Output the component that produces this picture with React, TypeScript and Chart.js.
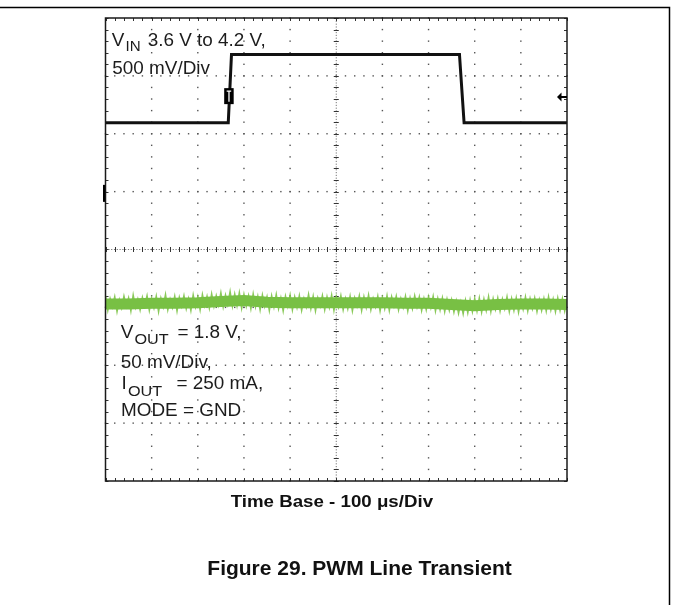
import { useEffect, useRef } from "react";
import { Chart, registerables } from "chart.js";

Chart.register(...registerables);

// ---- axes (time in µs, vertical in screen divisions) ----
const timeMin = 0;
const timeMax = 1000;
const timeStep = 100; // 100 µs / div
const divMin = -4;
const divMax = 4;
const divStep = 1;
const minorPerDiv = 5;

// ---- VIN trace (500 mV/Div, 3.6 V -> 4.2 V) ----
const vinTimes = [0, 266, 273, 767, 777, 1000];
const vinLevels = [2.19, 2.19, 3.37, 3.37, 2.19, 2.19];

// ---- VOUT trace (50 mV/Div) : core level and noise envelope ----
const voutCoreTimes = [0, 50, 100, 150, 200, 250, 300, 350, 400, 450, 500, 550, 600, 650, 700, 750, 800, 850, 900, 950, 1000];
const voutCoreLevels = [-0.94, -0.94, -0.93, -0.93, -0.92, -0.9, -0.88, -0.91, -0.92, -0.92, -0.92, -0.92, -0.92, -0.93, -0.93, -0.95, -0.97, -0.95, -0.94, -0.94, -0.95];
const voutNoiseStep = 5; // µs between noise samples
const voutNoise = [
  -0.8, -1.05, -0.85, -0.99, -0.82, -1.07, -0.87, -1.01, -0.81, -0.98,
  -0.84, -1.06, -0.79, -1.0, -0.86, -1.04, -0.83, -0.97, -0.8, -1.05,
  -0.85, -1.01, -0.81, -1.07, -0.84, -0.99, -0.78, -1.04, -0.86, -1.0,
  -0.81, -1.06, -0.83, -0.98, -0.8, -1.02, -0.85, -1.05, -0.79, -0.99,
  -0.82, -1.04, -0.78, -0.97, -0.81, -1.01, -0.77, -0.98, -0.8, -0.96,
  -0.75, -0.99, -0.79, -0.95, -0.73, -0.98, -0.77, -0.97, -0.75, -1.01,
  -0.78, -0.98, -0.8, -1.02, -0.77, -0.99, -0.81, -1.04, -0.79, -0.98,
  -0.82, -1.05, -0.8, -0.99, -0.78, -1.02, -0.84, -1.06, -0.81, -0.98,
  -0.79, -1.04, -0.82, -1.0, -0.8, -1.05, -0.85, -0.99, -0.78, -1.02,
  -0.81, -1.06, -0.84, -0.98, -0.8, -1.04, -0.82, -1.0, -0.79, -1.05,
  -0.82, -0.99, -0.8, -1.04, -0.85, -1.02, -0.81, -1.06, -0.84, -0.98,
  -0.8, -1.05, -0.82, -1.0, -0.79, -1.04, -0.85, -0.99, -0.81, -1.06,
  -0.84, -1.02, -0.8, -1.05, -0.82, -0.98, -0.81, -1.04, -0.85, -1.0,
  -0.81, -1.06, -0.84, -1.02, -0.8, -0.99, -0.82, -1.05, -0.85, -1.04,
  -0.82, -1.0, -0.81, -1.06, -0.85, -1.04, -0.84, -1.07, -0.86, -1.05,
  -0.87, -1.08, -0.89, -1.1, -0.91, -1.11, -0.88, -1.09, -0.87, -1.07,
  -0.85, -1.06, -0.84, -1.08, -0.86, -1.05, -0.82, -1.07, -0.85, -1.03,
  -0.84, -1.06, -0.86, -1.02, -0.82, -1.07, -0.85, -1.05, -0.84, -1.08,
  -0.86, -1.03, -0.82, -1.06, -0.85, -1.02, -0.84, -1.07, -0.87, -1.05,
  -0.85, -1.06, -0.82, -1.04, -0.86, -1.07, -0.84, -1.05, -0.85, -1.06,
  -0.87,
];

// ---- markers ----
const triggerTime = 268;
const triggerLevel = 2.65;
const ch1RefLevel = 0.97;
const arrowLevel = 2.635;

// ---- texts ----
const vinLabel = ["V", "IN", "3.6 V to 4.2 V,"];
const vinScale = "500 mV/Div";
const voutLabel = ["V", "OUT", "= 1.8 V,"];
const voutScale = "50 mV/Div,";
const ioutLabel = ["I", "OUT", "= 250 mA,"];
const modeLabel = "MODE = GND";
const timeBase = "Time Base - 100 \u03bcs/Div";
const caption = "Figure 29. PWM Line Transient";

const FONT = '"Liberation Sans", Arial, Helvetica, sans-serif';

function stretchText(ctx: CanvasRenderingContext2D, text: string, x: number, y: number, font: string, sx: number) {
  ctx.save();
  ctx.font = font;
  ctx.textBaseline = "alphabetic";
  ctx.textAlign = "left";
  ctx.translate(x, y);
  ctx.scale(sx, 1);
  ctx.fillText(text, 0, 0);
  ctx.restore();
}

const scopePlugin = {
  id: "scopeDecor",
  beforeDatasetsDraw(chart: any) {
    const { ctx, chartArea: a, scales } = chart;
    const xs = scales.x;
    const ys = scales.y;
    const xMinor = timeStep / minorPerDiv;
    const yMinor = divStep / minorPerDiv;
    ctx.save();
    // dotted grid
    ctx.fillStyle = "#555";
    for (let t = timeMin + timeStep; t < timeMax; t += timeStep) {
      if (t === (timeMin + timeMax) / 2) continue;
      const px = xs.getPixelForValue(t);
      for (let v = divMin; v <= divMax + 1e-9; v += yMinor) {
        const py = ys.getPixelForValue(v);
        ctx.fillRect(px - 0.7, py - 0.7, 1.4, 1.4);
      }
    }
    for (let v = divMin + divStep; v < divMax; v += divStep) {
      if (Math.abs(v) < 1e-9) continue;
      const py = ys.getPixelForValue(v);
      for (let t = timeMin; t <= timeMax + 1e-9; t += xMinor) {
        const px = xs.getPixelForValue(t);
        ctx.fillRect(px - 0.7, py - 0.7, 1.4, 1.4);
      }
    }
    // center cross lines
    const cx = xs.getPixelForValue((timeMin + timeMax) / 2);
    const cy = ys.getPixelForValue(0);
    ctx.strokeStyle = "#777";
    ctx.lineWidth = 1;
    ctx.setLineDash([1.2, 1.6]);
    ctx.beginPath();
    ctx.moveTo(a.left, cy);
    ctx.lineTo(a.right, cy);
    ctx.moveTo(cx, a.top);
    ctx.lineTo(cx, a.bottom);
    ctx.stroke();
    ctx.setLineDash([]);
    ctx.strokeStyle = "#333";
    ctx.beginPath();
    for (let t = timeMin; t <= timeMax + 1e-9; t += xMinor) {
      const px = Math.round(xs.getPixelForValue(t)) + 0.5;
      ctx.moveTo(px, cy - 2.5);
      ctx.lineTo(px, cy + 2.5);
    }
    for (let v = divMin; v <= divMax + 1e-9; v += yMinor) {
      const py = Math.round(ys.getPixelForValue(v)) + 0.5;
      ctx.moveTo(cx - 2.5, py);
      ctx.lineTo(cx + 2.5, py);
    }
    // border ticks
    for (let t = timeMin; t <= timeMax + 1e-9; t += xMinor) {
      const px = Math.round(xs.getPixelForValue(t)) + 0.5;
      ctx.moveTo(px, a.top);
      ctx.lineTo(px, a.top + 3);
      ctx.moveTo(px, a.bottom);
      ctx.lineTo(px, a.bottom - 3);
    }
    for (let v = divMin; v <= divMax + 1e-9; v += yMinor) {
      const py = Math.round(ys.getPixelForValue(v)) + 0.5;
      ctx.moveTo(a.left, py);
      ctx.lineTo(a.left + 3, py);
      ctx.moveTo(a.right, py);
      ctx.lineTo(a.right - 3, py);
    }
    ctx.stroke();
    ctx.restore();
  },
  afterDatasetsDraw(chart: any) {
    const { ctx, chartArea: a, scales } = chart;
    const xs = scales.x;
    const ys = scales.y;
    ctx.save();
    // plot border
    ctx.strokeStyle = "#1a1a1a";
    ctx.lineWidth = 1.5;
    ctx.strokeRect(a.left, a.top, a.right - a.left, a.bottom - a.top);

    // trigger marker
    const tx = xs.getPixelForValue(triggerTime);
    const ty = ys.getPixelForValue(triggerLevel);
    ctx.fillStyle = "#000";
    ctx.fillRect(tx - 5, ty - 8, 9.5, 16);
    ctx.strokeStyle = "#fff";
    ctx.lineWidth = 1.3;
    ctx.beginPath();
    ctx.moveTo(tx - 2.5, ty - 5);
    ctx.lineTo(tx + 2, ty - 5);
    ctx.moveTo(tx - 0.2, ty - 5);
    ctx.lineTo(tx - 0.2, ty + 5.5);
    ctx.stroke();

    // channel reference bar at left
    const ry = ys.getPixelForValue(ch1RefLevel);
    ctx.fillStyle = "#000";
    ctx.fillRect(a.left - 2.5, ry - 8.5, 2.2, 17);

    // arrow at right
    const ay = ys.getPixelForValue(arrowLevel);
    ctx.beginPath();
    ctx.moveTo(a.right - 10, ay);
    ctx.lineTo(a.right - 5.5, ay - 4.5);
    ctx.lineTo(a.right - 5.5, ay + 4.5);
    ctx.closePath();
    ctx.fill();
    ctx.fillRect(a.right - 6, ay - 1, 6, 2);

    // scope texts
    ctx.fillStyle = "#1c1c1c";
    const big = `17.5px ${FONT}`;
    const sub = `14px ${FONT}`;
    const sx = 1.08;
    stretchText(ctx, vinLabel[0], 111.7, 46, big, sx);
    stretchText(ctx, vinLabel[1], 125.5, 50.5, sub, sx);
    stretchText(ctx, vinLabel[2], 147.7, 46, big, sx);
    stretchText(ctx, vinScale, 112.3, 74, big, sx);
    stretchText(ctx, voutLabel[0], 120.7, 338.3, big, sx);
    stretchText(ctx, voutLabel[1], 134.5, 344, `15px ${FONT}`, sx);
    stretchText(ctx, voutLabel[2], 177.5, 338.3, big, sx);
    stretchText(ctx, voutScale, 120.7, 367.7, big, sx);
    stretchText(ctx, ioutLabel[0], 121.5, 389, big, sx);
    stretchText(ctx, ioutLabel[1], 128, 395.5, `15px ${FONT}`, sx);
    stretchText(ctx, ioutLabel[2], 176.5, 389, big, sx);
    stretchText(ctx, modeLabel, 121, 415.7, big, sx);

    // labels under the plot
    ctx.fillStyle = "#111";
    stretchText(ctx, timeBase, 230.7, 507.3, `bold 17px ${FONT}`, 1.1);
    stretchText(ctx, caption, 207.3, 575, `bold 21px ${FONT}`, 1.0);

    // page frame
    ctx.strokeStyle = "#000";
    ctx.lineWidth = 1.5;
    ctx.beginPath();
    ctx.moveTo(0, 7.5);
    ctx.lineTo(669.5, 7.5);
    ctx.lineTo(669.5, 605);
    ctx.stroke();
    ctx.restore();
  },
};

export default function App() {
  const ref = useRef<HTMLCanvasElement | null>(null);
  useEffect(() => {
    if (!ref.current) return;
    const chart = new Chart(ref.current, {
      type: "line",
      data: {
        datasets: [
          {
            label: "VOUT core",
            data: voutCoreTimes.map((t, i) => ({ x: t, y: voutCoreLevels[i] })),
            borderColor: "rgb(120,192,68)",
            borderWidth: 11,
            pointRadius: 0,
            tension: 0,
          },
          {
            label: "VOUT noise",
            data: voutNoise.map((v, i) => ({ x: i * voutNoiseStep, y: v })),
            borderColor: "rgba(124,195,70,0.9)",
            borderWidth: 1.6,
            pointRadius: 0,
            tension: 0,
          },
          {
            label: "VIN",
            data: vinTimes.map((t, i) => ({ x: t, y: vinLevels[i] })),
            borderColor: "#111",
            borderWidth: 3,
            pointRadius: 0,
            tension: 0,
          },
        ],
      },
      options: {
        responsive: false,
        animation: false,
        layout: { padding: { left: 105.5, top: 18, right: 106, bottom: 124 } },
        plugins: { legend: { display: false }, tooltip: { enabled: false } },
        scales: {
          x: { type: "linear", min: timeMin, max: timeMax, display: false, ticks: { stepSize: timeStep } },
          y: { type: "linear", min: divMin, max: divMax, display: false, ticks: { stepSize: divStep } },
        },
      },
      plugins: [scopePlugin],
    });
    return () => chart.destroy();
  }, []);
  return (
    <canvas
      ref={ref}
      width={673}
      height={605}
      style={{ position: "fixed", left: 0, top: 0, background: "#fff" }}
    />
  );
}
